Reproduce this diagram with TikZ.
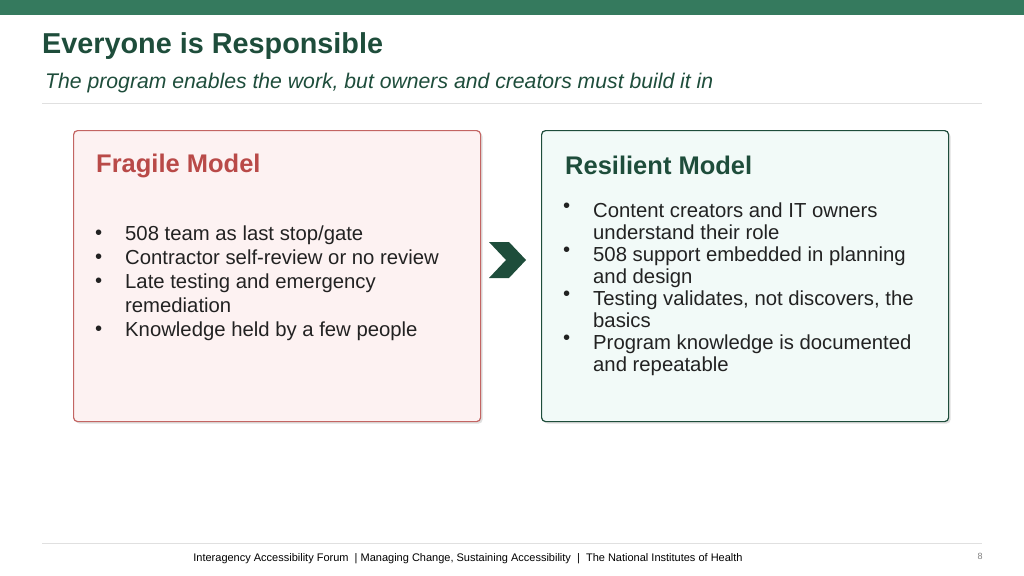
\documentclass[tikz,border=0pt]{standalone}
\usepackage{fontspec}
\setmainfont{Liberation Sans}
\usetikzlibrary{positioning,shadows}
\definecolor{barGreen}{HTML}{357A5E}
\definecolor{darkGreen}{HTML}{1E4D3B}
\definecolor{fragRed}{HTML}{B94A48}
\definecolor{fragFill}{HTML}{FDF2F2}
\definecolor{resFill}{HTML}{F2FAF8}
\definecolor{txtGray}{HTML}{222222}
\tikzset{
  panel/.style={draw, line width=1.2pt, rounded corners=4pt, minimum width=407pt, minimum height=291pt, anchor=north west, drop shadow={opacity=0.25, shadow xshift=2pt, shadow yshift=-2pt}},
  ptitle/.style={anchor=west, inner sep=0pt, font=\bfseries\fontsize{25.5}{30}\selectfont},
  bul/.style={anchor=north west, align=left, text=txtGray, inner sep=0pt, font=\fontsize{20.3}{22}\selectfont},
  dot/.style={anchor=north west, inner sep=0pt, text=txtGray, font=\fontsize{20.3}{22}\selectfont}
}
\begin{document}
\begin{tikzpicture}[x=1pt,y=-1pt]
  \useasboundingbox (0,0) rectangle (1024,575);
  \fill[barGreen] (0,0) rectangle (1024,15);

  % title
  \node (title) [anchor=west, text=darkGreen, font=\bfseries\fontsize{28.8}{32}\selectfont, inner sep=0pt] at (42,46) {Everyone is Responsible};
  \node (subtitle) [anchor=west, text=darkGreen, font=\itshape\fontsize{21.2}{24}\selectfont, inner sep=0pt] at (45,83) {The program enables the work, but owners and creators must build it in};
  \draw[black!12] (42,103) -- (982,103);

  % panels
  \node (fragile) [panel, draw=fragRed!85, fill=fragFill] at (73,130) {};
  \node (resilient) [panel, draw=darkGreen, fill=resFill] at (541,130) {};
  \node (fragT) [ptitle, text=fragRed] at (96,166) {Fragile Model};
  \node (resT) [ptitle, text=darkGreen] at (565,165) {Resilient Model};

  % fragile bullets
  \foreach \y/\t in {226/{508 team as last stop/gate}, 250/{Contractor self-review or no review}, 274/{Late testing and emergency\\remediation}, 322/{Knowledge held by a few people}}{
    \node[dot] at (95,\y+4) {•};
    \node[bul, font=\fontsize{20.3}{24}\selectfont] at (125,\y) {\t};
  }

  % resilient bullets
  \foreach \y/\t in {203/{Content creators and IT owners\\understand their role}, 247/{508 support embedded in planning\\and design}, 291/{Testing validates, not discovers, the\\basics}, 335/{Program knowledge is documented\\and repeatable}}{
    \node[dot] at (563,\y) {•};
    \node[bul] at (593,\y) {\t};
  }

  % chevron
  \fill[darkGreen] (489,242) -- (509,242) -- (526,260) -- (509,278) -- (489,278) -- (506,260) -- cycle;

  % footer
  \draw[black!12] (42,543) -- (982,543);
  \node (footer) [font=\fontsize{11}{13}\selectfont, inner sep=0pt] at (468,559) {Interagency Accessibility Forum \ | Managing Change, Sustaining Accessibility \ | \ The National Institutes of Health};
  \node (page) [font=\fontsize{9}{11}\selectfont, text=black!50, inner sep=0pt] at (980,556) {8};
\end{tikzpicture}
\end{document}
